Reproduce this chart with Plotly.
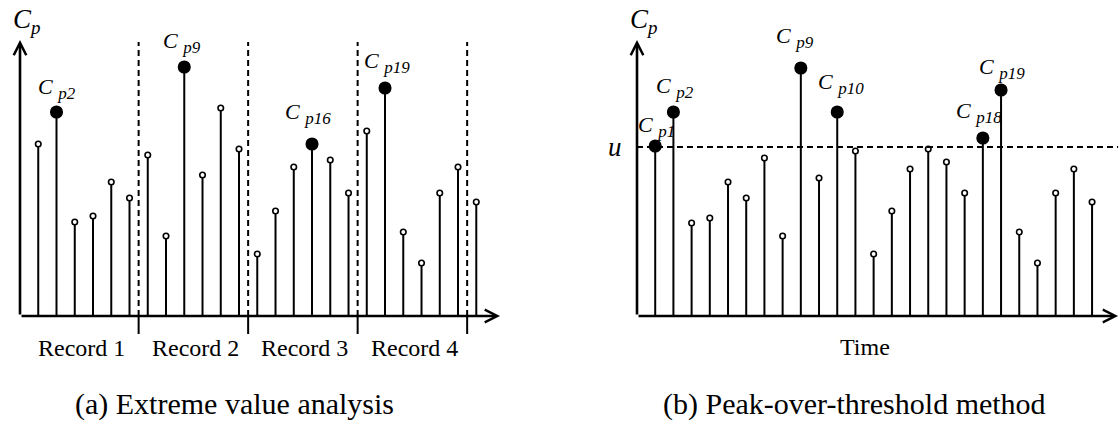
import plotly.graph_objects as go

# Peak coefficient samples along time (arbitrary units)
steps = list(range(1, 26))
cp_records = [1.72, 2.04, 0.94, 1.00, 1.34, 1.18, 1.61, 0.80, 2.49, 1.41, 2.08, 1.67,
              0.62, 1.05, 1.49, 1.72, 1.56, 1.23, 1.85, 2.28, 0.84, 0.53, 1.23, 1.49, 1.14]
cp_series = [1.70, 2.04, 0.93, 0.98, 1.34, 1.18, 1.58, 0.80, 2.48, 1.38, 2.04, 1.65,
             0.62, 1.05, 1.47, 1.67, 1.54, 1.23, 1.78, 2.26, 0.84, 0.53, 1.23, 1.47, 1.14]

record_bounds = [6.5, 12.5, 18.5, 24.5]
record_names = ["Record 1", "Record 2", "Record 3", "Record 4"]
evt_peak_names = ["p2", "p9", "p16", "p19"]

threshold_u = 1.69
pot_peak_names = ["p1", "p2", "p9", "p10", "p18", "p19"]

captions = ["(a) Extreme value analysis", "(b) Peak-over-threshold method"]

FONT = "Liberation Serif"
INK = "black"
X_TIP_A, X_TIP_B, Y_TIP = 26.3, 26.43, 2.76

fig = go.Figure()


def stems(xs, ys, xa, ya):
    sx, sy = [], []
    for x, y in zip(xs, ys):
        sx += [x, x, None]
        sy += [0, y, None]
    fig.add_trace(go.Scatter(x=sx, y=sy, mode="lines", xaxis=xa, yaxis=ya,
                             line=dict(color=INK, width=2), hoverinfo="skip",
                             showlegend=False))


def dots(xs, ys, filled, xa, ya):
    fig.add_trace(go.Scatter(
        x=xs, y=ys, mode="markers", xaxis=xa, yaxis=ya, showlegend=False,
        marker=dict(size=11.5 if filled else 5.5,
                    color=INK if filled else "white",
                    line=dict(color=INK, width=1.6)),
        cliponaxis=False))


def cp_text(sub, sub_px):
    return (f"<i>C</i> <sub><i><span style='font-size:{sub_px}px'>{sub}</span>"
            f"</i></sub>")


def peak_label(x, y, name, xref, yref, dx=0.0, dy=0.25):
    fig.add_annotation(x=x + dx, y=y + dy, xref=xref, yref=yref, showarrow=False,
                       xanchor="center", yanchor="middle",
                       text=cp_text(name, 17),
                       font=dict(family=FONT, size=22, color=INK))


def axis_arrow(xref, yref, x, y, ax, ay):
    fig.add_annotation(x=x, y=y, ax=ax, ay=ay, xref=xref, yref=yref,
                       axref=xref, ayref=yref, text="", showarrow=True,
                       arrowhead=5, arrowsize=0.95, arrowwidth=2.6, arrowcolor=INK,
                       standoff=0)


def axis_title(xref, yref):
    fig.add_annotation(x=0.4, y=2.95, xref=xref, yref=yref, showarrow=False,
                       xanchor="center",
                       text="<i>C</i><sub><i><span style='font-size:19px'>p</span>"
                            "</i></sub>",
                       font=dict(family=FONT, size=27, color=INK))


# ---------- (a) extreme value analysis: maximum of each record ----------
stems(steps, cp_records, "x", "y")
edges = [0.5] + record_bounds
rec_max = []
for lo, hi in zip(edges[:-1], edges[1:]):
    idx = [i for i, s in enumerate(steps) if lo < s < hi]
    rec_max.append(max(idx, key=lambda i: cp_records[i]))
open_a = [i for i in range(len(steps)) if i not in rec_max]
dots([steps[i] for i in open_a], [cp_records[i] for i in open_a], False, "x", "y")
dots([steps[i] for i in rec_max], [cp_records[i] for i in rec_max], True, "x", "y")

for b in record_bounds:
    fig.add_shape(type="line", xref="x", yref="y", x0=b, x1=b, y0=0, y1=2.74,
                  line=dict(color=INK, width=2, dash="6px,4px"))
    fig.add_shape(type="line", xref="x", yref="y", x0=b, x1=b, y0=0, y1=-0.18,
                  line=dict(color=INK, width=2))

label_edges = [0] + record_bounds
for name, lo, hi in zip(record_names, label_edges[:-1], label_edges[1:]):
    fig.add_annotation(x=(lo + hi) / 2 + 0.1, y=-0.32, xref="x", yref="y",
                       showarrow=False, text=name, xanchor="center",
                       font=dict(family=FONT, size=24, color=INK))

evt_offsets = [(0.05, 0.24), (-0.1, 0.25), (-0.2, 0.31), (0.1, 0.26)]
for i, name, (dx, dy) in zip(rec_max, evt_peak_names, evt_offsets):
    peak_label(steps[i], cp_records[i], name, "x", "y", dx, dy)

axis_arrow("x", "y", X_TIP_A, 0, 0, 0)
axis_arrow("x", "y", 0, Y_TIP, 0, 0)
axis_title("x", "y")

# ---------- (b) peak-over-threshold: all values above u ----------
stems(steps, cp_series, "x2", "y2")
over = [i for i, v in enumerate(cp_series) if v >= threshold_u]
under = [i for i, v in enumerate(cp_series) if v < threshold_u]
dots([steps[i] for i in under], [cp_series[i] for i in under], False, "x2", "y2")
dots([steps[i] for i in over], [cp_series[i] for i in over], True, "x2", "y2")

fig.add_shape(type="line", xref="x2", yref="y2", x0=0, x1=X_TIP_B, y0=threshold_u,
              y1=threshold_u, line=dict(color=INK, width=2, dash="6px,4px"))
fig.add_annotation(x=-1.2, y=threshold_u, xref="x2", yref="y2", showarrow=False,
                   xanchor="center", text="<i>u</i>",
                   font=dict(family=FONT, size=27, color=INK))

pot_offsets = [(0.05, 0.2), (0.1, 0.25), (-0.3, 0.31), (0.2, 0.29), (-0.2, 0.26),
               (0.05, 0.22)]
for i, name, (dx, dy) in zip(over, pot_peak_names, pot_offsets):
    peak_label(steps[i], cp_series[i], name, "x2", "y2", dx, dy)

axis_arrow("x2", "y2", X_TIP_B, 0, 0, 0)
axis_arrow("x2", "y2", 0, Y_TIP, 0, 0)
axis_title("x2", "y2")
fig.add_annotation(x=12.53, y=-0.31, xref="x2", yref="y2", showarrow=False,
                   xanchor="center", text="Time",
                   font=dict(family=FONT, size=24, color=INK))

for cx, cap in zip([0.21, 0.764], captions):
    fig.add_annotation(x=cx, y=0.052, xref="paper", yref="paper", showarrow=False,
                       xanchor="center", yanchor="middle", text=cap,
                       font=dict(family=FONT, size=30, color=INK))

hidden = dict(visible=False, fixedrange=True)
fig.update_layout(
    width=1119, height=426, autosize=False,
    margin=dict(l=0, r=0, t=0, b=0),
    paper_bgcolor="white", plot_bgcolor="white",
    xaxis=dict(domain=[0, 0.5], range=[-1.096, 29.56], **hidden),
    xaxis2=dict(domain=[0.5, 1], range=[-4.258, 26.48], **hidden),
    yaxis=dict(domain=[0, 1], range=[-1.10, 3.16], **hidden),
    yaxis2=dict(domain=[0, 1], range=[-1.10, 3.16], anchor="x2", **hidden),
)

fig.write_html("out.html")
